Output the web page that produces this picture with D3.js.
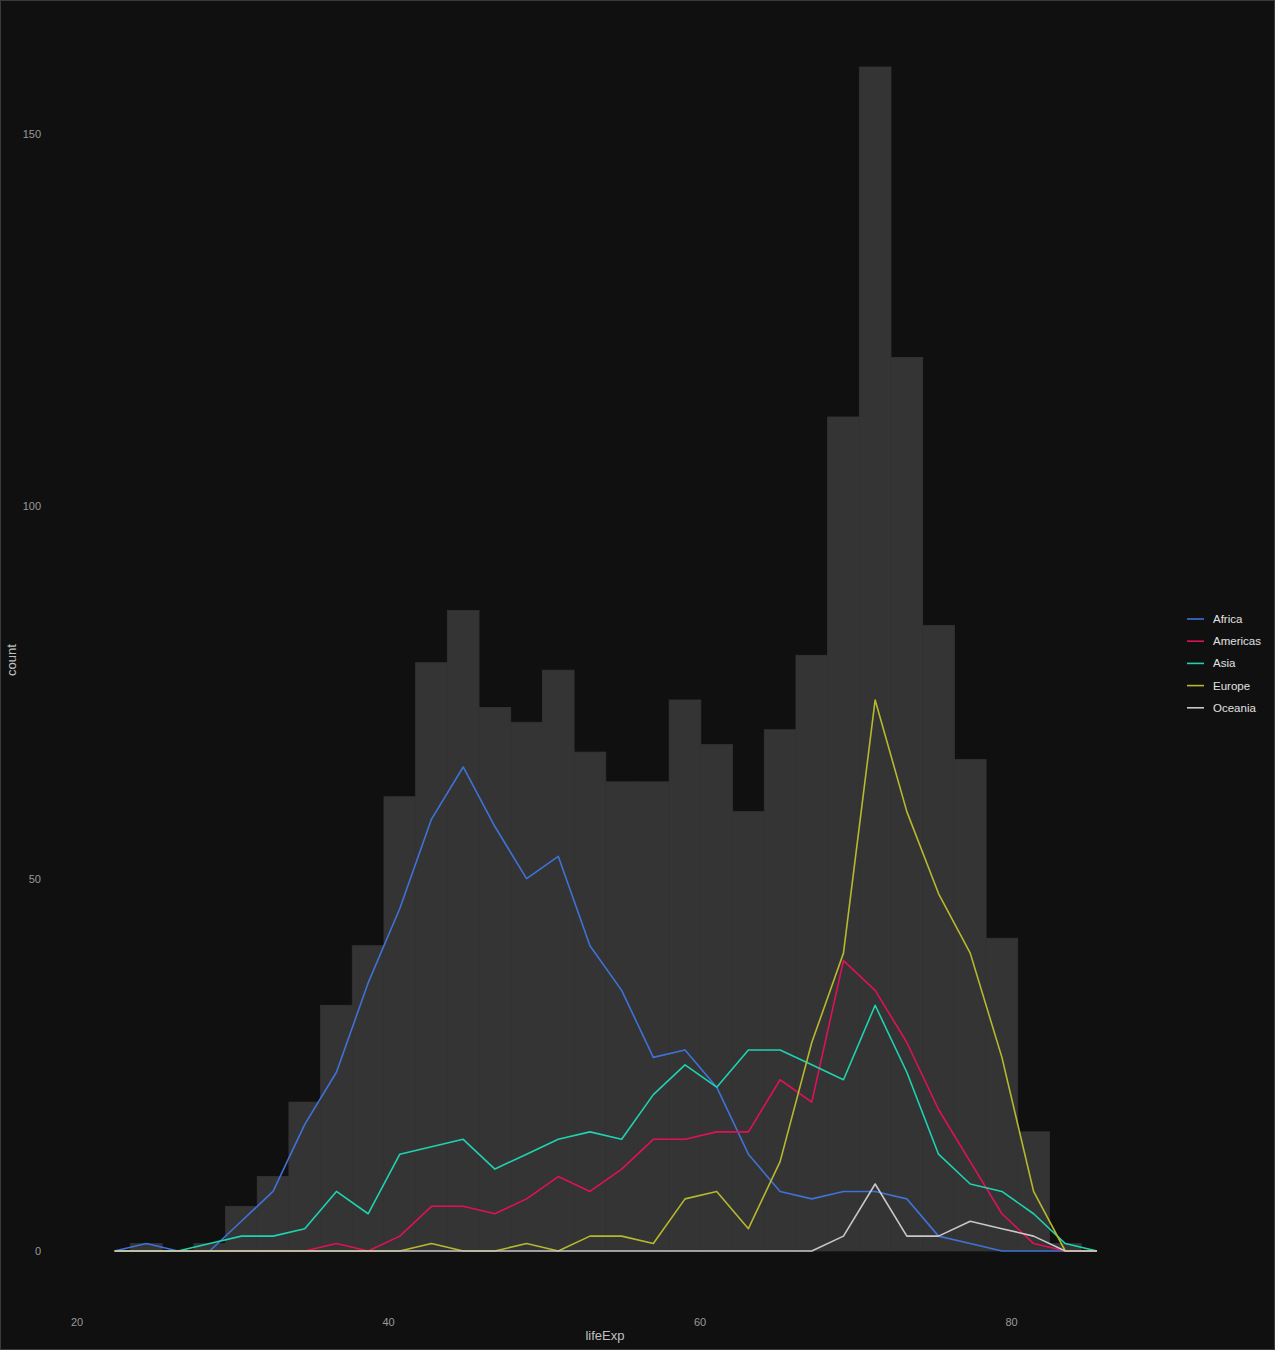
<!DOCTYPE html>
<html>
<head>
<meta charset="utf-8">
<script src="https://cdn.jsdelivr.net/npm/d3@7"></script>
<style>
html,body{margin:0;padding:0;background:#101010;}
svg{display:block;}
</style>
</head>
<body>
<script>
// bin settings
const firstCenter = 24.45;
const binWidth = 2.0346;
// histogram counts (30 bins)
const totalCounts = [1,0,1,6,10,20,33,41,61,79,86,73,71,78,67,63,63,74,68,59,70,80,112,159,120,84,66,42,16,1];
const continents = ["Africa","Americas","Asia","Europe","Oceania"];
const colors = ["#3f72d6","#e0105a","#1ed3b0","#b7b82e","#c8c8c8"];
const africa   = [1,0,0,4,8,17,24,36,46,58,65,57,50,53,41,35,26,27,22,13,8,7,8,8,7,2,1,0,0,0];
const americas = [0,0,0,0,0,0,1,0,2,6,6,5,7,10,8,11,15,15,16,16,23,20,39,35,28,19,12,5,1,0];
const asia     = [0,0,1,2,2,3,8,5,13,14,15,11,13,15,16,15,21,25,22,27,27,25,23,33,24,13,9,8,5,1];
const europe   = [0,0,0,0,0,0,0,0,0,1,0,0,1,0,2,2,1,7,8,3,12,28,40,74,59,48,40,26,8,0];
const oceania  = [0,0,0,0,0,0,0,0,0,0,0,0,0,0,0,0,0,0,0,0,0,0,2,9,2,2,4,3,2,0];
const seriesValues = [africa, americas, asia, europe, oceania];
const xTicks = [20,40,60,80];
const yTicks = [0,50,100,150];

const W = 1275, H = 1350;
const svg = d3.select("body").append("svg").attr("width", W).attr("height", H);
svg.append("rect").attr("x",0.5).attr("y",0.5).attr("width",W-1).attr("height",H-1)
  .attr("fill","#101010").attr("stroke","#3a3a3a").attr("stroke-width",1);

const x = d3.scaleLinear().domain([20,80]).range([77,1011.5]);
const y = d3.scaleLinear().domain([0,150]).range([1251,134]);

const centers = totalCounts.map((_,i)=> firstCenter + i*binWidth);

// bars
svg.append("g").selectAll("rect").data(totalCounts).join("rect")
  .attr("x",(d,i)=> x(centers[i]-binWidth/2))
  .attr("width",(d,i)=> x(centers[i]+binWidth/2) - x(centers[i]-binWidth/2))
  .attr("y", d=> y(d))
  .attr("height", d=> y(0)-y(d))
  .attr("fill","#343434")
  .attr("stroke","#343434").attr("stroke-width",0.8);

// freq polygons (padded zeros at both ends)
const line = d3.line().x(d=>x(d[0])).y(d=>y(d[1]));
seriesValues.forEach((vals,si)=>{
  const pts = [[firstCenter-binWidth,0]]
    .concat(vals.map((v,i)=>[centers[i],v]))
    .concat([[centers[centers.length-1]+binWidth,0]]);
  svg.append("path").datum(pts).attr("d",line)
    .attr("fill","none").attr("stroke",colors[si]).attr("stroke-width",1.6)
    .attr("stroke-linejoin","round");
});

// axes labels
const font = "Liberation Sans, Arial, sans-serif";
svg.append("g").selectAll("text").data(xTicks).join("text")
  .attr("x",d=>x(d)).attr("y",1326).attr("text-anchor","middle")
  .attr("font-family",font).attr("font-size",11).attr("fill","#9a9a9a").text(d=>d);
svg.append("g").selectAll("text").data(yTicks).join("text")
  .attr("x",41).attr("y",d=>y(d)+4).attr("text-anchor","end")
  .attr("font-family",font).attr("font-size",11).attr("fill","#9a9a9a").text(d=>d);

svg.append("text").attr("x",605).attr("y",1340).attr("text-anchor","middle")
  .attr("font-family",font).attr("font-size",13).attr("fill","#c0c0c0").text("lifeExp");
svg.append("text").attr("transform","translate(16,660) rotate(-90)").attr("text-anchor","middle")
  .attr("font-family",font).attr("font-size",13).attr("fill","#c0c0c0").text("count");

// legend
const lg = svg.append("g");
continents.forEach((c,i)=>{
  const yy = 619 + i*22.2;
  lg.append("line").attr("x1",1187).attr("x2",1204).attr("y1",yy).attr("y2",yy)
    .attr("stroke",colors[i]).attr("stroke-width",1.6);
  lg.append("text").attr("x",1213).attr("y",yy+4).attr("font-family",font)
    .attr("font-size",11.5).attr("fill","#e0e0e0").text(c);
});
</script>
</body>
</html>
